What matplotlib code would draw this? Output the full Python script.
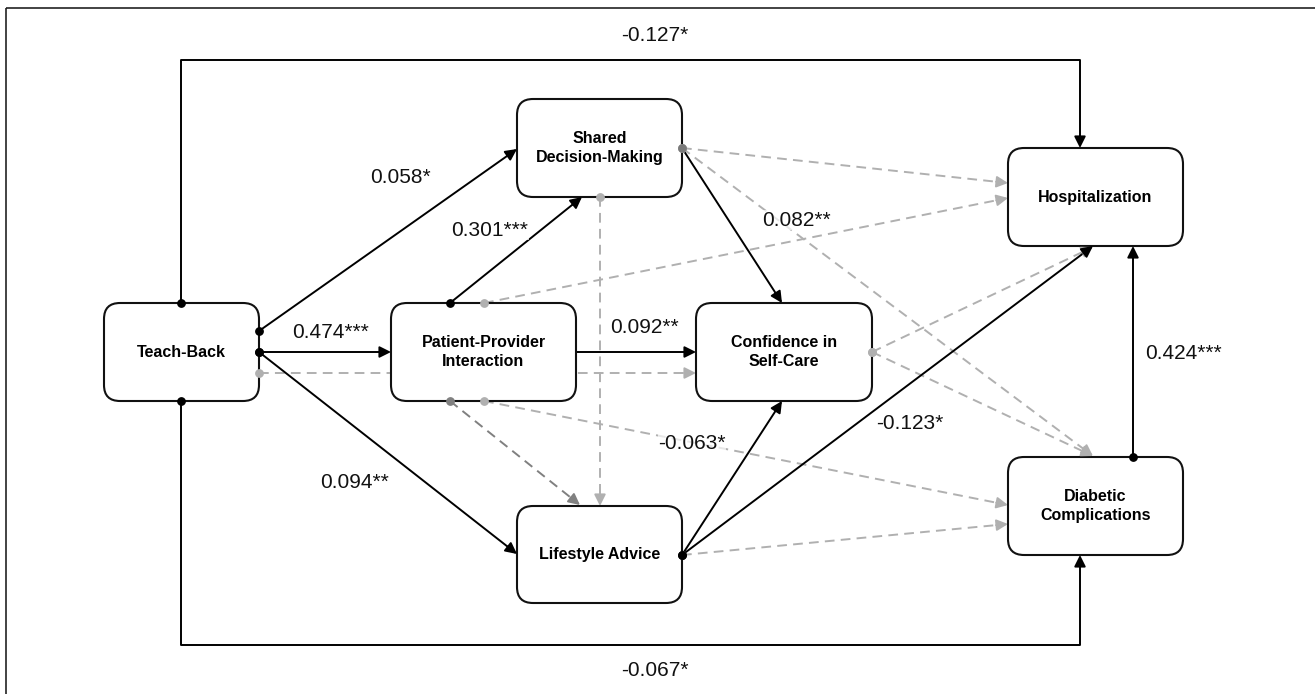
import matplotlib
matplotlib.use("Agg")
import matplotlib.pyplot as plt
from matplotlib.patches import FancyBboxPatch, FancyArrowPatch
import numpy as np

plt.rcParams['font.family'] = ['Liberation Sans', 'DejaVu Sans']

# ---- model data ----
node_keys = ["TB", "PPI", "SDM", "CSC", "LA", "HOS", "DC"]
node_text = ["Teach-Back", "Patient-Provider\nInteraction", "Shared\nDecision-Making",
             "Confidence in\nSelf-Care", "Lifestyle Advice", "Hospitalization",
             "Diabetic\nComplications"]

# significant paths (solid) and their coefficients
sig_src = ["TB", "TB", "TB", "TB", "TB", "PPI", "PPI", "SDM", "LA", "LA", "DC"]
sig_dst = ["HOS", "DC", "SDM", "PPI", "LA", "SDM", "CSC", "CSC", "CSC", "HOS", "HOS"]
sig_coef = ["-0.127*", "-0.067*", "0.058*", "0.474***", "0.094**", "0.301***",
            "0.092**", "0.082**", "-0.063*", "-0.123*", "0.424***"]

# non-significant paths (dashed grey)
ns_src = ["TB", "PPI", "PPI", "PPI", "SDM", "SDM", "SDM", "CSC", "CSC", "LA"]
ns_dst = ["CSC", "HOS", "LA", "DC", "LA", "HOS", "DC", "HOS", "DC", "DC"]

# ---- layout (pixel space) ----
boxes = {
    "TB": (104, 303, 155, 98),
    "PPI": (391, 303, 185, 98),
    "SDM": (517, 99, 165, 98),
    "CSC": (696, 303, 176, 98),
    "LA": (517, 506, 165, 97),
    "HOS": (1008, 148, 175, 98),
    "DC": (1008, 457, 175, 98),
}

sig_route = [
    [(181, 303), (181, 60), (1080, 60), (1080, 148)],
    [(181, 401), (181, 645), (1080, 645), (1080, 555)],
    [(259, 331), (517, 149)],
    [(259, 352), (391, 352)],
    [(259, 352), (517, 554)],
    [(450, 303), (582, 197)],
    [(576, 352), (696, 352)],
    [(682, 148), (782, 303)],
    [(682, 555), (782, 401)],
    [(682, 555), (1093, 246)],
    [(1133, 457), (1133, 246)],
]
sig_dot = ["k", "k", "k", "k", "k", "k", None, "#7a7a7a", "k", "k", "k"]
sig_label_xy = [(655, 35), (655, 671), (400, 177), (331, 332), (355, 482),
                (490, 230), (644, 327), (796, 220), (692, 443), (910, 423),
                (1183, 353)]

ns_route = [
    [(259, 373), (696, 373)],
    [(484, 303), (1008, 198)],
    [(450, 401), (580, 505)],
    [(484, 401), (1008, 505)],
    [(600, 197), (600, 506)],
    [(682, 148), (1008, 183)],
    [(682, 148), (1093, 456)],
    [(872, 352), (1093, 247)],
    [(872, 352), (1093, 456)],
    [(682, 555), (1008, 524)],
]
ns_color = ["#b0b0b0", "#b0b0b0", "#808080", "#b0b0b0", "#b0b0b0",
            "#b0b0b0", "#b0b0b0", "#b0b0b0", "#b0b0b0", "#b0b0b0"]

W, H = 1315, 694
fig = plt.figure(figsize=(W / 100, H / 100), dpi=100)
ax = fig.add_axes([0, 0, 1, 1])
ax.set_xlim(0, W)
ax.set_ylim(H, 0)
ax.axis("off")

# outer frame
ax.add_patch(plt.Rectangle((6, 8), W + 20, H + 20, fill=False, lw=1.2, ec="#222", zorder=0))

LW = 1.4


def draw_path(pts, color, ls, dot):
    pts = np.array(pts, dtype=float)
    # shorten last segment so the head sits at the end
    end = pts[-1]
    d = end - pts[-2]
    d = d / np.hypot(*d)
    line = pts.copy()
    line[-1] = end - d * 9
    ax.plot(line[:, 0], line[:, 1], color=color, lw=LW, ls=ls, zorder=1,
            solid_capstyle="butt", dash_capstyle="butt")
    arr = FancyArrowPatch(tuple(end - d * 12), tuple(end), arrowstyle="-|>",
                          mutation_scale=17, color=color, lw=LW,
                          shrinkA=0, shrinkB=0, zorder=3)
    ax.add_patch(arr)
    if dot is not None:
        ax.plot(pts[0, 0], pts[0, 1], "o", ms=5.3, color=dot, zorder=4)


for pts, col in zip(ns_route, ns_color):
    draw_path(pts, col, (0, (5, 3.2)), col)

for pts, dot in zip(sig_route, sig_dot):
    draw_path(pts, "black", "-", dot)

# boxes
for key, txt in zip(node_keys, node_text):
    x, y, w, h = boxes[key]
    ax.add_patch(FancyBboxPatch((x, y), w, h, boxstyle="round,pad=0,rounding_size=16",
                                fc="white", ec="#111", lw=1.5, zorder=2))
    ax.text(x + w / 2, y + h / 2, txt, ha="center", va="center", fontsize=11.5,
            fontweight="bold", linespacing=1.35, zorder=5)

# coefficient labels
for lab, (lx, ly) in zip(sig_coef, sig_label_xy):
    ax.text(lx, ly, lab, ha="center", va="center", fontsize=15, color="#111",
            bbox=dict(fc="white", ec="none", alpha=0.7, pad=0.5), zorder=6)

fig.savefig("out.png", dpi=100)
